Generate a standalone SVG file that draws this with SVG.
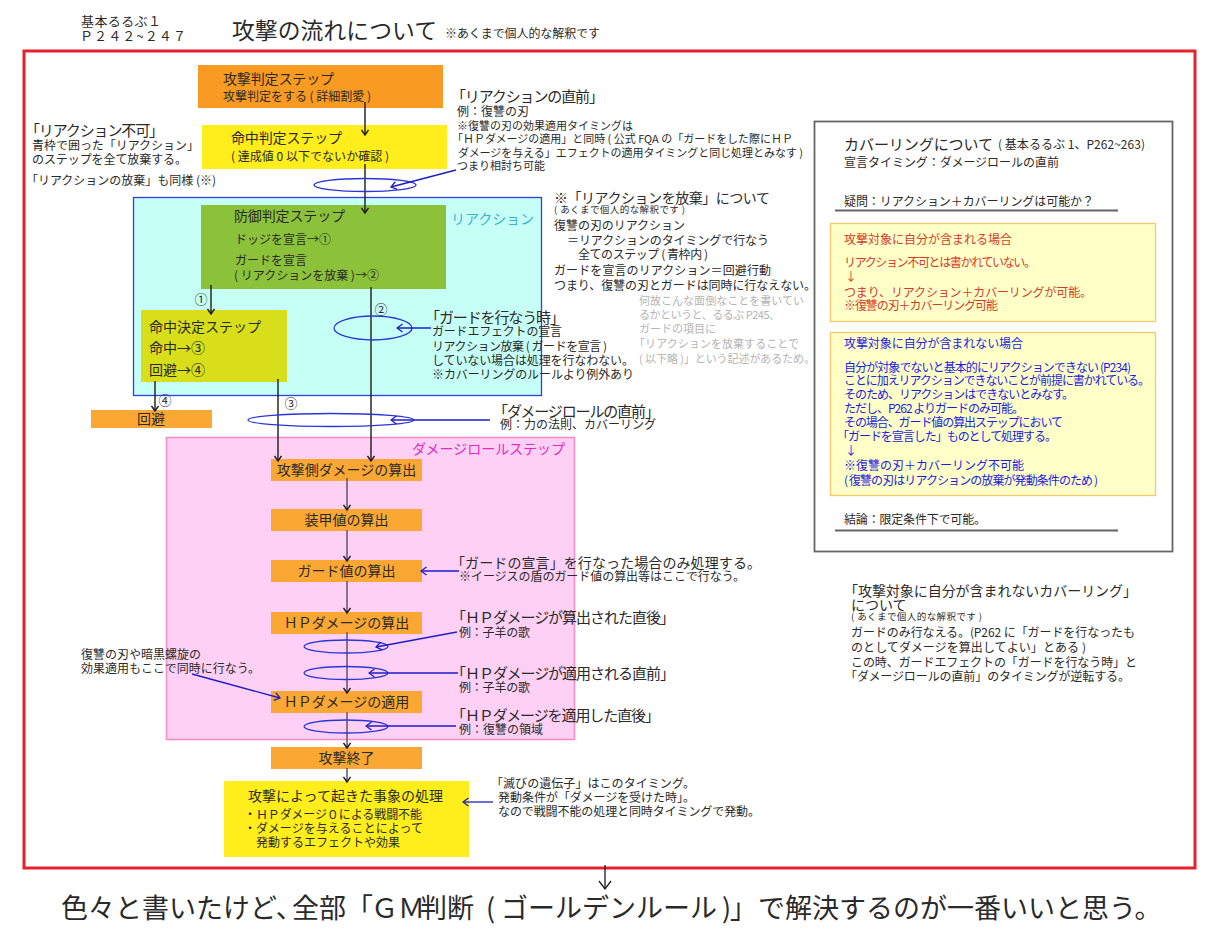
<svg xmlns="http://www.w3.org/2000/svg" width="1210" height="943" viewBox="0 0 1210 943">
<style>
text{font-family:"Noto Sans CJK JP","Noto Sans",sans-serif;fill:#2a2a2a;font-size:12px}
.h{font-size:14px}.h2{font-size:15px}.m{font-size:14px}.s{font-size:11px}.xs{font-size:9.500px}
.gy{fill:#b4b4b4;font-size:11px}.r{fill:#d43c2c}.b{fill:#1c1ce0}
.c{text-anchor:middle}
.st{fill:#fba733}
.e{fill:none;stroke:#2a35d8;stroke-width:1.3}
.a{fill:none;stroke:#1a1a1a;stroke-width:1.4;marker-end:url(#k)}
.p{fill:none;stroke:#6a5a7a;stroke-width:1.6;marker-end:url(#k)}
.u{fill:none;stroke:#1c1cc8;stroke-width:1.3;marker-end:url(#u)}
.ln{stroke:#666;stroke-width:2}
</style>
<defs>
<marker id="k" markerWidth="8" markerHeight="8" refX="6" refY="4" orient="auto" markerUnits="userSpaceOnUse"><path d="M1 0.5L6 4L1 7.5" fill="none" stroke="#1a1a1a" stroke-width="1.4"/></marker>
<marker id="u" markerWidth="8" markerHeight="10" refX="7" refY="5" orient="auto" markerUnits="userSpaceOnUse"><path d="M1.5 1L7 5L1.5 9" fill="none" stroke="#1c1cc8" stroke-width="1.3"/></marker>
<marker id="big" markerWidth="12" markerHeight="14" refX="10" refY="7" orient="auto" markerUnits="userSpaceOnUse"><path d="M2 1L10 7L2 13" fill="none" stroke="#1a1a1a" stroke-width="1.3"/></marker>
</defs>
<rect width="1210" height="943" fill="#fff"/>
<g id="header">
<text x="81" y="26" style="font-size:13px" textLength="80">基本るるぶ１</text>
<text x="80" y="41" style="font-size:13px" textLength="106">Ｐ２４２~２４７</text>
<text x="232" y="39" style="font-size:22.800px" textLength="205">攻撃の流れについて</text>
<text x="445" y="38" textLength="155">※あくまで個人的な解釈です</text>
</g>
<rect id="frame" x="24" y="51" width="1171" height="817" fill="none" stroke="#e6212e" stroke-width="3"/>
<g id="reaction-area"><rect x="133.500" y="197.500" width="408" height="198" fill="#c6fff5" stroke="#2f3fe0" stroke-width="1.3"/><text x="451" y="224" class="h" style="fill:#3bb3d0" textLength="83">リアクション</text></g>
<g id="damage-area"><rect x="166.500" y="437.500" width="408" height="302" fill="#fed0f5" stroke="#f390c0" stroke-width="1.600"/><text x="412" y="454" class="h" style="fill:#e02cc0" textLength="153">ダメージロールステップ</text></g>
<g id="n-attack"><rect x="198" y="65" width="245" height="43" fill="#f99a22"/><text x="223" y="84" class="h" textLength="111">攻撃判定ステップ</text><text x="223" y="101" textLength="148">攻撃判定をする ( 詳細割愛 )</text></g>
<g id="n-hit"><rect x="202" y="125" width="245" height="44" fill="#ffed1c"/><text x="231" y="143" class="h" textLength="111">命中判定ステップ</text><text x="231" y="161" textLength="158">( 達成値 0 以下でないか確認 )</text></g>
<g id="n-defense"><rect x="201" y="205" width="245" height="84" fill="#8cc13a"/><text x="234" y="221" class="h" textLength="111">防御判定ステップ</text><text x="235" y="244">ドッジを宣言→①</text><text x="235" y="265">ガードを宣言</text><text x="234" y="280">( リアクションを放棄 )→②</text></g>
<g id="n-decide"><rect x="141" y="310" width="146" height="72" fill="#d8df1a"/><text x="149" y="332" class="h" textLength="112">命中決定ステップ</text><text x="149" y="353" class="m">命中→③</text><text x="149" y="375" class="m">回避→④</text></g>
<g id="n-evade"><rect x="91" y="410" width="121" height="18" class="st"/><text x="151" y="424" class="c m">回避</text></g>
<g id="n-atkdmg"><rect x="271" y="459" width="151" height="22" class="st"/><text x="346.500" y="475" class="c m">攻撃側ダメージの算出</text></g>
<g id="n-armor"><rect x="271" y="509" width="151" height="22" class="st"/><text x="346.500" y="525" class="c m">装甲値の算出</text></g>
<g id="n-guard"><rect x="271" y="560" width="151" height="22" class="st"/><text x="346.500" y="576" class="c m">ガード値の算出</text></g>
<g id="n-hpcalc"><rect x="271" y="612" width="151" height="22" class="st"/><text x="346.500" y="628" class="c m">ＨＰダメージの算出</text></g>
<g id="n-hpapply"><rect x="271" y="691" width="151" height="22" class="st"/><text x="346.500" y="707" class="c m">ＨＰダメージの適用</text></g>
<g id="n-end"><rect x="271" y="747" width="151" height="22" class="st"/><text x="346.500" y="763" class="c m">攻撃終了</text></g>
<g id="n-result"><rect x="224" y="781" width="245" height="76" fill="#ffed1c"/><text x="248" y="801" class="h" textLength="195">攻撃によって起きた事象の処理</text><text x="244" y="819" textLength="178">・ＨＰダメージ０による戦闘不能</text><text x="244" y="833" textLength="179">・ダメージを与えることによって</text><text x="256" y="847">発動するエフェクトや効果</text></g>
<g id="connectors">
<path class="a" d="M365 102V135"/><path class="a" d="M365 164V213"/>
<path class="a" d="M211 285V314"/><path class="a" d="M371 287V461"/><path class="a" d="M155 381V411"/><path class="a" d="M278 379V461"/>
<path class="p" d="M347 478V510"/><path class="p" d="M347 530V561"/><path class="p" d="M347 581V613"/><path class="p" d="M347 632V693"/><path class="p" d="M347 712V748"/><path class="p" d="M347 768V782"/>
<ellipse class="e" cx="365" cy="185" rx="51" ry="6.500"/><ellipse class="e" cx="373" cy="328" rx="39" ry="12"/><ellipse class="e" cx="331" cy="420" rx="83" ry="6.500"/><ellipse class="e" cx="346" cy="646.500" rx="42" ry="6.500"/><ellipse class="e" cx="346" cy="673" rx="42" ry="6.500"/><ellipse class="e" cx="346" cy="726.500" rx="42" ry="6.500"/>
<path class="u" d="M456 170L391 187"/><path class="u" d="M431 328H397"/><path class="u" d="M490 420H391"/><path class="u" d="M459 571H421"/><path class="u" d="M457 632L376 647"/><path class="u" d="M458 673H369"/><path class="u" d="M456 726H366"/><path class="u" d="M192 674L280 698"/><path class="u" d="M493 802H463"/>
<path d="M605 865V889" fill="none" stroke="#1a1a1a" stroke-width="1.300" marker-end="url(#big)"/>
<text x="201" y="304" class="c" style="font-size:13px">①</text><text x="381" y="314" class="c" style="font-size:13px">②</text><text x="291" y="408" class="c" style="font-size:13px">③</text><text x="165" y="405" class="c" style="font-size:13px">④</text>
</g>
<g id="note-left"><text x="25" y="136" class="h2" textLength="139">「リアクション不可」</text><text x="32" y="150" textLength="167">青枠で囲った「リアクション」</text><text x="32" y="164" textLength="155">のステップを全て放棄する。</text><text x="26" y="185" textLength="190">「リアクションの放棄」も同様 (※)</text></g>
<g id="note-before"><text x="451" y="102" class="h2" textLength="153">「リアクションの直前」</text><text x="457" y="116" textLength="72">例：復讐の刃</text><text x="457" y="130" class="s" textLength="176">※復讐の刃の効果適用タイミングは</text><text x="452" y="143" class="s" textLength="341">「ＨＰダメージの適用」と同時 ( 公式 FQA の「ガードをした際にＨＰ</text><text x="458" y="157" class="s" textLength="345">ダメージを与える」エフェクトの適用タイミングと同じ処理とみなす )</text><text x="457" y="170" class="s" textLength="88">つまり相討ち可能</text></g>
<g id="note-abandon"><text x="554" y="203" class="h" textLength="216">※「リアクションを放棄」について</text><text x="554" y="213" class="xs" textLength="131">( あくまで個人的な解釈です )</text><text x="554" y="230" textLength="131">復讐の刃のリアクション</text><text x="567" y="245" textLength="202">＝リアクションのタイミングで行なう</text><text x="578" y="259" textLength="130">全てのステップ ( 青枠内 )</text><text x="554" y="275" textLength="217">ガードを宣言のリアクション＝回避行動</text><text x="554" y="290" textLength="262">つまり、復讐の刃とガードは同時に行なえない。</text></g>
<g id="note-grey"><text x="639" y="305" class="gy" textLength="165">何故こんな面倒なことを書いてい</text><text x="639" y="319" class="gy" textLength="141">るかというと、るるぶ P245、</text><text x="639" y="333" class="gy" textLength="77">ガードの項目に</text><text x="634" y="348" class="gy" textLength="165">「リアクションを放棄することで</text><text x="639" y="363" class="gy" textLength="176">( 以下略 )」という記述があるため。</text></g>
<g id="note-guard"><text x="425" y="323" class="h2" textLength="140">「ガードを行なう時」</text><text x="432" y="336" textLength="130">ガードエフェクトの宣言</text><text x="432" y="351" textLength="175">リアクション放棄 ( ガードを宣言 )</text><text x="432" y="365" textLength="202">していない場合は処理を行なわない。</text><text x="432" y="379" textLength="202">※カバーリングのルールより例外あり</text></g>
<g id="note-dmg"><text x="493" y="417" class="h2" textLength="167">「ダメージロールの直前」</text><text x="500" y="429" textLength="156">例：力の法則、カバーリング</text></g>
<g id="note-guardval"><text x="451" y="568" class="h" textLength="310">「ガードの宣言」を行なった場合のみ処理する。</text><text x="459" y="581" textLength="286">※イージスの盾のガード値の算出等はここで行なう。</text></g>
<g id="note-hp1"><text x="451" y="623" class="h2" textLength="224">「ＨＰダメージが算出された直後」</text><text x="459" y="637" textLength="71">例：子羊の歌</text></g>
<g id="note-hp2"><text x="451" y="679" class="h2" textLength="224">「ＨＰダメージが適用される直前」</text><text x="459" y="692" textLength="71">例：子羊の歌</text></g>
<g id="note-hp3"><text x="451" y="721" class="h2" textLength="209">「ＨＰダメージを適用した直後」</text><text x="459" y="734" textLength="84">例：復讐の領域</text></g>
<g id="note-gen"><text x="81" y="659" textLength="120">復讐の刃や暗黒螺旋の</text><text x="81" y="673" textLength="179">効果適用もここで同時に行なう。</text></g>
<g id="note-gene"><text x="491" y="788" textLength="204">「滅びの遺伝子」はこのタイミング。</text><text x="498" y="802" textLength="197">発動条件が「ダメージを受けた時」。</text><text x="498" y="816" textLength="262">なので戦闘不能の処理と同時タイミングで発動。</text></g>
<g id="panel">
<rect x="814.500" y="121.500" width="358" height="430" fill="#fff" stroke="#666" stroke-width="1.800"/>
<text x="844" y="150" class="h2" textLength="149">カバーリングについて</text>
<text x="998" y="149" textLength="147">( 基本るるぶ 1、P262~263)</text>
<text x="844" y="167" textLength="215">宣言タイミング：ダメージロールの直前</text>
<text x="844" y="206" textLength="250">疑問：リアクション＋カバーリングは可能か？</text>
<line class="ln" x1="835" y1="210.500" x2="1118" y2="210.500"/>
<rect x="830.500" y="223.500" width="325" height="98" fill="#ffffc8" stroke="#f5c86e" stroke-width="1.300"/>
<text x="844" y="244" class="r" textLength="168">攻撃対象に自分が含まれる場合</text>
<text x="844" y="267" class="r" textLength="192">リアクション不可とは書かれていない。</text>
<text x="845" y="281" class="r">↓</text>
<text x="844" y="297" class="r" textLength="248">つまり、リアクション＋カバーリングが可能。</text>
<text x="844" y="310" class="r" textLength="154">※復讐の刃＋カバーリング可能</text>
<rect x="830.500" y="332.500" width="325" height="163" fill="#ffffc8" stroke="#f5c86e" stroke-width="1.300"/>
<text x="844" y="348" class="b" textLength="179">攻撃対象に自分が含まれない場合</text>
<text x="844" y="372" class="b" textLength="287">自分が対象でないと基本的にリアクションできない (P234)</text>
<text x="844" y="385" class="b" textLength="306">ことに加えリアクションできないことが前提に書かれている。</text>
<text x="844" y="399" class="b" textLength="230">そのため、リアクションはできないとみなす。</text>
<text x="844" y="413" class="b" textLength="180">ただし、P262 よりガードのみ可能。</text>
<text x="844" y="427" class="b" textLength="219">その場合、ガード値の算出ステップにおいて</text>
<text x="837" y="441" class="b" textLength="220">「ガードを宣言した」ものとして処理する。</text>
<text x="845" y="455" class="b">↓</text>
<text x="844" y="470" class="b" textLength="180">※復讐の刃＋カバーリング不可能</text>
<text x="844" y="485" class="b" textLength="254">( 復讐の刃はリアクションの放棄が発動条件のため )</text>
<text x="844" y="524" textLength="142">結論：限定条件下で可能。</text>
<line class="ln" x1="835" y1="530.500" x2="1118" y2="530.500"/>
</g>
<g id="note-cover"><text x="844" y="596" class="h" textLength="293">「攻撃対象に自分が含まれないカバーリング」</text><text x="851" y="610" class="h">について</text><text x="851" y="620" class="xs" textLength="131">( あくまで個人的な解釈です )</text><text x="851" y="637" textLength="284">ガードのみ行なえる。(P262 に「ガードを行なったも</text><text x="851" y="652" textLength="235">のとしてダメージを算出してよい」とある )</text><text x="851" y="667" textLength="286">この時、ガードエフェクトの「ガードを行なう時」と</text><text x="845" y="681" textLength="285">「ダメージロールの直前」のタイミングが逆転する。</text></g>
<g id="conclusion"><text y="918" style="font-size:27px"><tspan x="61">色々と書いたけど、</tspan><tspan x="292">全部「</tspan><tspan x="371">ＧＭ</tspan><tspan x="420">判断</tspan><tspan x="486">(</tspan><tspan x="501">ゴールデンルール</tspan><tspan x="722">)</tspan><tspan x="730">」</tspan><tspan x="758">で解決するのが一番いいと思う。</tspan></text></g>
</svg>
